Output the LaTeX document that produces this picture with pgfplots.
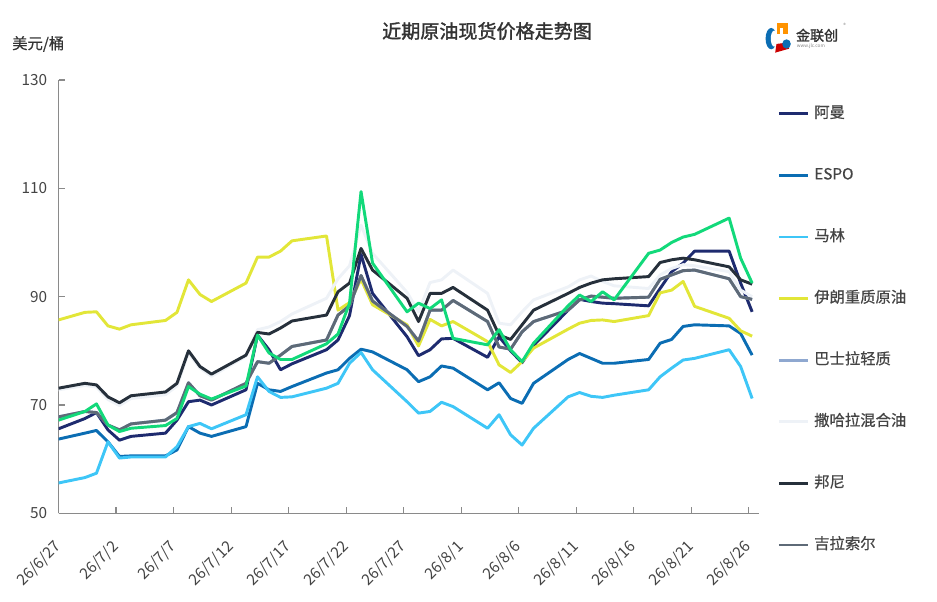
\documentclass[border=0pt]{standalone}
\usepackage{fontspec}
\setmainfont{Noto Sans CJK SC}
\newfontfamily\titlefont{Noto Sans CJK SC}[FakeBold=1.6]
\newfontfamily\legfont{Noto Sans CJK SC}[FakeBold=0.6]
\usepackage{pgfplots}
\pgfplotsset{compat=1.18}
\usepackage{pgfplotstable}
\definecolor{cAman}{HTML}{1E2B6F}
\definecolor{cEspo}{HTML}{0B6DB3}
\definecolor{cMarlin}{HTML}{3EC6F7}
\definecolor{cIran}{HTML}{E2E638}
\definecolor{cBasra}{HTML}{8FA8D0}
\definecolor{cSahara}{HTML}{EEF2F7}
\definecolor{cBonny}{HTML}{26303B}
\definecolor{cGira}{HTML}{5E6A77}
\definecolor{cGreen}{HTML}{12D97A}
\definecolor{cAxis}{HTML}{8A8A8A}
\definecolor{cText}{HTML}{444444}
\definecolor{cTitle}{HTML}{333333}

\pgfplotstableread{
x aman espo marlin iran basra sahara bonny girassol green
0    65.6 63.7 55.6 85.7 67.8 72.8 73.1 67.8 67.2
2.3  67.5 64.8 56.6 87.1 68.8 73.6 74.0 68.8 68.8
3.3  68.6 65.3 57.4 87.2 68.6 73.3 73.7 68.6 70.2
4.3  65.4 63.2 63.2 84.6 66.3 71.0 71.5 66.3 66.3
5.3  63.5 60.5 60.2 84.0 65.4 69.9 70.4 65.4 65.1
6.3  64.2 60.6 60.4 84.8 66.5 71.2 71.7 66.5 65.7
9.3  64.8 60.6 60.4 85.6 67.2 71.9 72.4 67.2 66.2
10.3 67.2 61.7 62.3 87.1 68.6 73.5 74.0 68.6 67.5
11.3 70.6 66.0 66.0 93.1 74.1 79.6 80.0 74.1 73.4
12.3 70.9 64.8 66.6 90.4 71.7 76.8 77.1 71.7 72.0
13.3 70.0 64.2 65.6 89.1 70.9 75.3 75.7 70.9 71.1
16.3 72.8 66.0 68.2 92.5 74.0 79.0 79.2 74.0 73.5
17.3 82.9 74.0 75.2 97.3 78.0 83.9 83.4 78.0 82.9
18.3 80.2 72.8 72.5 97.3 77.7 84.4 83.1 77.7 79.6
19.3 76.5 72.5 71.4 98.4 79.2 85.4 84.2 79.2 78.4
20.3 77.6 73.4 71.5 100.3 80.8 86.8 85.5 80.8 78.4
23.3 80.2 75.9 73.1 101.2 82.0 89.7 86.6 82.0 81.3
24.3 82.0 76.5 74.0 87.5 86.6 93.3 90.9 86.6 83.1
25.3 86.5 78.6 77.7 88.9 88.3 95.7 92.5 88.3 88.8
26.3 97.8 80.3 79.7 93.2 93.9 103.2 98.9 93.9 109.4
27.3 90.6 79.8 76.5 88.5 89.2 98.0 94.9 89.2 96.2
30.3 82.6 76.5 70.6 84.8 84.5 90.8 89.7 84.5 87.2
31.3 79.1 74.3 68.5 80.9 81.8 87.2 85.4 81.8 88.8
32.3 80.2 75.2 68.8 85.8 87.5 92.6 90.6 87.5 87.8
33.3 82.2 77.2 70.5 84.6 87.5 93.1 90.6 87.5 89.4
34.3 82.3 76.8 69.7 85.4 89.3 94.9 91.7 89.3 82.3
37.3 78.8 72.8 65.7 81.7 85.4 90.6 87.5 85.4 81.1
38.3 82.6 74.1 68.2 77.4 80.7 85.1 82.9 80.7 83.9
39.3 80.0 71.2 64.5 76.0 80.3 84.8 82.1 80.3 80.2
40.3 77.8 70.3 62.6 78.0 83.5 87.2 84.8 83.5 78.0
41.3 81.0 74.0 65.7 80.5 85.4 89.4 87.5 85.4 81.4
44.3 87.5 78.4 71.5 84.0 87.5 91.8 90.6 87.5 88.3
45.3 89.5 79.5 72.3 85.1 89.4 93.1 91.7 89.4 90.3
46.3 89.1 78.6 71.6 85.6 90.1 93.8 92.5 90.1 89.1
47.3 88.8 77.7 71.4 85.7 89.9 92.8 93.1 89.9 90.9
48.3 88.7 77.7 71.8 85.4 89.7 92.0 93.3 89.7 89.4
51.3 88.3 78.4 72.8 86.5 89.9 91.5 93.7 89.9 98.0
52.3 91.5 81.4 75.2 90.7 93.2 94.0 96.3 93.2 98.6
53.3 94.6 82.1 76.8 91.2 94.0 95.2 96.8 94.0 100.0
54.3 96.2 84.5 78.3 92.8 94.8 95.9 97.1 94.8 101.0
55.3 98.4 84.8 78.6 88.2 94.9 95.7 96.8 94.9 101.5
58.3 98.4 84.6 80.2 86.0 93.3 94.6 95.5 93.3 104.5
59.3 92.5 83.2 77.1 83.7 90.0 91.2 93.1 90.0 97.1
60.3 87.2 79.2 71.2 82.7 89.5 90.0 92.3 89.5 92.5
}\datatable

\begin{document}
\begin{tikzpicture}
\path[use as bounding box] (-43.875pt,-65.775pt) rectangle (658.875pt,384.975pt);
\begin{axis}[
  at={(0pt,0pt)}, anchor=south west,
  scale only axis, width=525.4pt, height=325pt,
  xmin=0, xmax=60.9, ymin=50, ymax=130,
  axis x line=bottom, axis y line=left,
  axis line style={-, draw=cAxis, line width=0.8pt},
  tick style={draw=cAxis, line width=0.8pt},
  tick align=inside, major tick length=4.5pt,
  ytick={50,70,90,110,130},
  xtick={0,5,...,60},
  xticklabels={26/6/27,26/7/2,26/7/7,26/7/12,26/7/17,26/7/22,26/7/27,26/8/1,26/8/6,26/8/11,26/8/16,26/8/21,26/8/26},
  /pgf/number format/assume math mode=true,
  yticklabel style={font=\fontsize{11.5}{13}\selectfont, text=cText, xshift=-5pt},
  xticklabel style={font=\fontsize{11.5}{13}\selectfont, text=cText, rotate=45, anchor=east, inner sep=0pt, xshift=-16.5pt, yshift=-16.5pt},
  legend cell align=left,
  legend image code/.code={\draw[#1, line width=2.2pt] (0pt,0pt) -- (21.75pt,0pt);},
  legend style={at={(1.0257,0.941)}, anchor=north west, draw=none, fill=none,
    inner sep=0pt, row sep=34.2pt, column sep=3.75pt,
    font=\legfont\fontsize{11.5}{13}\selectfont, text=cText,
    nodes={inner sep=0pt, text height=9pt, text depth=3pt}},
  every axis plot/.append style={line width=2.2pt, line join=round},
  clip=true,
]
\addplot[cAman, no markers] table[x=x,y=aman] {\datatable};
\addlegendentry{阿曼}
\addplot[cEspo, no markers] table[x=x,y=espo] {\datatable};
\addlegendentry{ESPO}
\addplot[cMarlin, no markers] table[x=x,y=marlin] {\datatable};
\addlegendentry{马林}
\addplot[cIran, no markers] table[x=x,y=iran] {\datatable};
\addlegendentry{伊朗重质原油}
\addplot[cBasra, no markers] table[x=x,y=basra] {\datatable};
\addlegendentry{巴士拉轻质}
\addplot[cSahara, no markers] table[x=x,y=sahara] {\datatable};
\addlegendentry{撒哈拉混合油}
\addplot[cBonny, no markers] table[x=x,y=bonny] {\datatable};
\addlegendentry{邦尼}
\addplot[cGira, no markers] table[x=x,y=girassol] {\datatable};
\addlegendentry{吉拉索尔}
\addplot[cGreen, no markers, forget plot] table[x=x,y=green] {\datatable};
\end{axis}
\node[font=\titlefont\fontsize{14.3}{16}\selectfont, text=cTitle] at (321.4pt,361.7pt) {近期原油现货价格走势图};
\node[font=\legfont\fontsize{11.5}{13}\selectfont, text=cTitle, anchor=west, inner sep=0pt] at (-34.9pt,352pt) {美元/桶};
% logo
\fill[cEspo] (534.5pt,356pt) ellipse (4.2pt and 8pt);
\fill[white] (536.8pt,356pt) ellipse (2.6pt and 6pt);
\fill[orange!85!yellow] (538.5pt,359.5pt) rectangle (547pt,367.5pt);
\fill[white] (541pt,359.5pt) rectangle (543.5pt,364pt);
\fill[red!80!black] (537.5pt,345.5pt) -- (548pt,348.5pt) -- (546pt,353pt) -- (538.5pt,352pt) -- cycle;
\fill[cEspo] (546pt,352pt) ellipse (3.2pt and 3.5pt);
\node[font=\titlefont\fontsize{10.5}{12}\selectfont, text=cTitle, anchor=west, inner sep=0pt] at (553pt,358.5pt) {金联创};
\node[font=\fontsize{3.5}{4}\selectfont, text=gray, anchor=west, inner sep=0pt] at (553.5pt,350.5pt) {www.jlc.com};
\node[font=\fontsize{4}{5}\selectfont, text=gray, inner sep=0pt] at (589.5pt,366pt) {®};
\end{tikzpicture}
\end{document}
